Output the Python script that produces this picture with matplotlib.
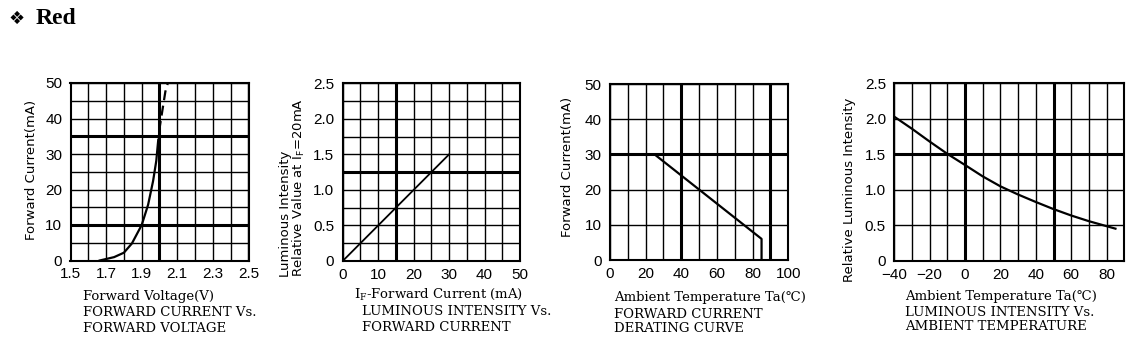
import numpy as np
import matplotlib
matplotlib.use('Agg')
import matplotlib.pyplot as plt

# Forward current vs forward voltage
vf_solid = [1.664, 1.745, 1.80, 1.845, 1.90, 1.936, 1.964, 1.982, 1.993]
if_solid = [0, 0.95, 2.2, 4.8, 10, 15.7, 22.4, 28.1, 34.0]
vf_dash = [1.998, 2.009, 2.033, 2.047]
if_dash = [36.5, 40, 47.6, 50]

# Relative luminous intensity vs forward current
if_lum = [0, 30]
rel_lum = [0, 1.5]

# Derating curve
ta_derate = [0, 25, 85, 85]
if_derate = [30, 30, 6, 0]

# Relative luminous intensity vs ambient temperature
ta_lum = [-40, -30, -20, -10, 0, 10, 20, 30, 40, 50, 60, 70, 80, 85]
rel_lum_ta = [2.03, 1.86, 1.68, 1.507, 1.35, 1.19, 1.05, 0.935, 0.83, 0.73, 0.64, 0.56, 0.49, 0.455]

W, H = 1144, 342
fig = plt.figure(figsize=(W / 100, H / 100), dpi=100)

LABEL_FONT = dict(family=['DejaVu Serif', 'DejaVu Sans'], fontsize=9.5)
YLABEL_FONT = dict(family=['DejaVu Sans'], fontsize=9.5)
TICK_FONT = 'Liberation Sans'


def place(l, t, r, b):
    return fig.add_axes([l / W, 1 - b / H, (r - l) / W, (b - t) / H])


def px_text(x, y, s, **kw):
    return fig.text(x / W, 1 - y / H, s, **kw)


def caption(x, baselines, lines):
    for y, s in zip(baselines, lines):
        px_text(x, y, s, ha='left', va='baseline', **LABEL_FONT)


def setup(ax, xlim, ylim, xgrid, ygrid, xticks, xlabels, yticks, ylabels, thick_x, thick_y):
    ax.set_xlim(*xlim)
    ax.set_ylim(*ylim)
    ax.set_xticks(xgrid, minor=True)
    ax.set_yticks(ygrid, minor=True)
    ax.set_xticks(xticks)
    ax.set_xticklabels(xlabels, fontfamily=TICK_FONT, fontsize=11)
    ax.set_yticks(yticks)
    ax.set_yticklabels(ylabels, fontfamily=TICK_FONT, fontsize=11)
    ax.tick_params(which='both', length=0)
    ax.tick_params(axis='x', pad=5)
    ax.tick_params(axis='y', pad=6)
    ax.grid(which='both', color='black', lw=1.0)
    ax.set_axisbelow(True)
    for v in thick_x:
        ax.axvline(v, color='black', lw=2.2, zorder=1.5)
    for v in thick_y:
        ax.axhline(v, color='black', lw=2.2, zorder=1.5)
    for s in ax.spines.values():
        s.set_linewidth(1.5)


# Title
px_text(9, 19, '\u2756', family='DejaVu Sans', fontsize=13, va='center', ha='left')
px_text(36, 19, 'Red', family='Liberation Serif', fontweight='bold', fontsize=17, va='center', ha='left')

# Panel 1
ax1 = place(70.5, 83, 248.5, 260.5)
setup(ax1, (1.5, 2.5), (0, 50),
      np.arange(1.5, 2.51, 0.1), np.arange(0, 51, 5),
      [1.5, 1.7, 1.9, 2.1, 2.3, 2.5], ['1.5', '1.7', '1.9', '2.1', '2.3', '2.5'],
      [0, 10, 20, 30, 40, 50], ['0', '10', '20', '30', '40', '50'],
      [2.0], [10, 35])
ax1.plot(vf_solid, if_solid, color='black', lw=1.6, zorder=3)
ax1.plot(vf_dash, if_dash, color='black', lw=1.6, ls=(0, (4.5, 2.5)), zorder=3)
px_text(32, 240, 'Forward Current(mA)', rotation=90, ha='center', va='bottom', **YLABEL_FONT)
caption(83, [300, 316.5, 332], ['Forward Voltage(V)', 'FORWARD CURRENT Vs.', 'FORWARD VOLTAGE'])

# Panel 2
ax2 = place(342.7, 83.3, 520, 261)
setup(ax2, (0, 50), (0, 2.5),
      np.arange(0, 51, 5), np.arange(0, 2.51, 0.25),
      [0, 10, 20, 30, 40, 50], ['0', '10', '20', '30', '40', '50'],
      [0, 0.5, 1.0, 1.5, 2.0, 2.5], ['0', '0.5', '1.0', '1.5', '2.0', '2.5'],
      [15], [1.25])
ax2.plot(if_lum, rel_lum, color='black', lw=1.3, zorder=3)
px_text(286, 277, 'Luminous Intensity', rotation=90, ha='center', va='bottom', **YLABEL_FONT)
px_text(299, 277, r'Relative Value at I$_{\mathregular{F}}$=20mA', rotation=90, ha='center', va='bottom', **YLABEL_FONT)
caption(354, [298], [r'I$_{\mathregular{F}}$-Forward Current (mA)'])
caption(362, [315, 331], ['LUMINOUS INTENSITY Vs.', 'FORWARD CURRENT'])

# Panel 3
ax3 = place(610, 84, 788.3, 260)
setup(ax3, (0, 100), (0, 50),
      np.arange(0, 101, 10), np.arange(0, 51, 10),
      [0, 20, 40, 60, 80, 100], ['0', '20', '40', '60', '80', '100'],
      [0, 10, 20, 30, 40, 50], ['0', '10', '20', '30', '40', '50'],
      [40, 90], [30])
ax3.plot(ta_derate, if_derate, color='black', lw=1.6, zorder=3)
px_text(567, 237, 'Forward Current(mA)', rotation=90, ha='center', va='bottom', **YLABEL_FONT)
caption(614, [301.5, 317.5, 332.5], ['Ambient Temperature Ta(\u2103)', 'FORWARD CURRENT', 'DERATING CURVE'])

# Panel 4
ax4 = place(894.3, 83.3, 1124.3, 261)
setup(ax4, (-40, 90), (0, 2.5),
      np.arange(-40, 91, 10), np.arange(0, 2.51, 0.5),
      [-40, -20, 0, 20, 40, 60, 80], ['\u221240', '\u221220', '0', '20', '40', '60', '80'],
      [0, 0.5, 1.0, 1.5, 2.0, 2.5], ['0', '0.5', '1.0', '1.5', '2.0', '2.5'],
      [0, 50], [1.5])
ax4.plot(ta_lum, rel_lum_ta, color='black', lw=1.6, zorder=3)
px_text(850, 282, 'Relative Luminous Intensity', rotation=90, ha='center', va='bottom', **YLABEL_FONT)
caption(905, [300, 316, 330.5], ['Ambient Temperature Ta(\u2103)', 'LUMINOUS INTENSITY Vs.', 'AMBIENT TEMPERATURE'])

fig.savefig('out.png', dpi=100)
